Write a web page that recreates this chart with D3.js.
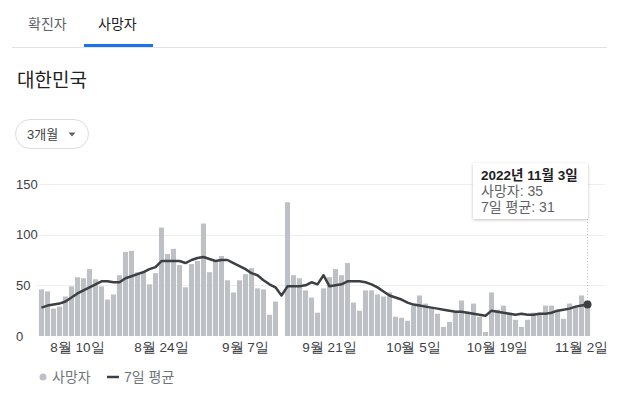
<!DOCTYPE html>
<html lang="ko">
<head>
<meta charset="utf-8">
<script src="https://cdn.jsdelivr.net/npm/d3@7"></script>
<style>
  body { margin: 0; background: #fff; }
  svg { display: block; font-family: Arial, "Liberation Sans", "Noto Sans CJK KR", sans-serif; }
</style>
</head>
<body>
<div id="chart"></div>
<script>
// daily deaths, 2022-08-04 .. 2022-11-03 (null = no report that day)
const startDay = "2022-08-04";
const deaths = [
  46, 44, 27, 29, 39, 49, 58, 57, 66, 56,
  49, 36, 41, 60, 83, 84, 63, 64, 51, 62,
  107, 81, 86, 70, 48, 71, 74, 111, 63, 73,
  79, 55, 43, 55, 61, 67, 47, 46, 21, 34,
  null, 132, 60, 57, 45, 38, 23, 47, 58, 66,
  60, 72, 33, 25, 45, 45, 41, 39, 43, 19,
  18, 15, 30, 40, 32, 28, 22, 9, 14, 23,
  35, 24, 32, 19, 4, 43, 26, 30, 23, 16,
  9, 16, 23, 23, 30, 30, 26, 17, 32, 29,
  40, 35
];
// 7-day average as drawn
const avg7 = [
  28, 30, 31, 32, 34, 38, 42, 45, 48, 51,
  54, 54, 53, 53, 57, 59, 61, 63, 66, 68,
  74, 74, 74, 74, 72, 75, 77, 78, 76, 74,
  75, 75, 72, 69, 66, 62, 60, 55, 51, 48,
  40, 49, 49, 49, 50, 53, 51, 60, 49, 50,
  51, 54, 54, 54, 53, 51, 48, 44, 40, 38,
  36, 33, 31, 30, 29, 28, 27, 26, 25, 24,
  24, 23, 22, 21, 20, 25, 24, 23, 22, 21,
  22, 21, 21, 22, 22, 23, 25, 26, 27, 29,
  30, 31
];
const xTickDays = ["2022-08-10", "2022-08-24", "2022-09-07", "2022-09-21", "2022-10-05", "2022-10-19", "2022-11-02"];
const xTickLabels = ["8월 10일", "8월 24일", "9월 7일", "9월 21일", "10월 5일", "10월 19일", "11월 2일"];
const yTicks = [0, 50, 100, 150];
const tabs = ["확진자", "사망자"];

const width = 617, height = 395;
const fmt = d3.timeFormat("%Y-%m-%d");
const parse = d3.timeParse("%Y-%m-%d");
const first = parse(startDay);
const days = d3.timeDay.range(first, d3.timeDay.offset(first, deaths.length)).map(fmt);

const data = days.map((d, i) => ({ day: d, deaths: deaths[i], avg: avg7[i] }));

const svg = d3.select("#chart").append("svg")
    .attr("width", width)
    .attr("height", height);

// header: tabs, title, period button
svg.append("line")
    .attr("x1", 12).attr("x2", 607)
    .attr("y1", 47.5).attr("y2", 47.5)
    .attr("stroke", "#e3e3e3");

svg.selectAll("text.tab")
    .data(tabs)
    .enter().append("text")
    .attr("class", "tab")
    .attr("x", (d, i) => i === 0 ? 28 : 98)
    .attr("y", 29)
    .attr("font-size", "14px")
    .attr("fill", (d, i) => i === 1 ? "#202124" : "#5f6368")
    .text(d => d);

svg.append("rect")
    .attr("x", 84).attr("y", 44)
    .attr("width", 69).attr("height", 3)
    .attr("fill", "#1a73e8");

svg.append("text")
    .attr("x", 17).attr("y", 87)
    .attr("font-size", "19px")
    .attr("fill", "#202124")
    .text("대한민국");

svg.append("rect")
    .attr("x", 15.5).attr("y", 119.5)
    .attr("width", 73).attr("height", 29)
    .attr("rx", 14.5)
    .attr("fill", "#fff")
    .attr("stroke", "#dadce0");

svg.append("text")
    .attr("x", 27).attr("y", 139)
    .attr("font-size", "13px")
    .attr("fill", "#3c4043")
    .text("3개월");

svg.append("path")
    .attr("d", "M68.5,132.5 L75.5,132.5 L72,136.5 Z")
    .attr("fill", "#5f6368");

// scales
const x = d3.scaleBand()
    .domain(days)
    .range([38.5, 590.5])
    .paddingInner(0.15)
    .paddingOuter(0.07);

const y = d3.scaleLinear()
    .domain([0, 150])
    .range([336, 184]);

// gridlines
svg.append("g")
    .selectAll("line")
    .data(yTicks.filter(v => v > 0))
    .enter().append("line")
    .attr("x1", 36).attr("x2", 605)
    .attr("y1", d => Math.round(y(d)) + 0.5)
    .attr("y2", d => Math.round(y(d)) + 0.5)
    .attr("stroke", "#efefef");

// y labels
const yAxis = svg.append("g")
    .attr("transform", "translate(16,0)")
    .call(d3.axisRight(y).tickValues(yTicks).tickSize(0).tickPadding(0));
yAxis.select(".domain").remove();
yAxis.selectAll("text")
    .attr("font-family", null)
    .attr("font-size", "13px")
    .attr("fill", "#3c4043");

// bars
svg.append("g")
    .selectAll("rect")
    .data(data.filter(d => d.deaths != null))
    .enter().append("rect")
    .attr("x", d => x(d.day))
    .attr("width", x.bandwidth())
    .attr("y", d => y(d.deaths))
    .attr("height", d => y(0) - y(d.deaths))
    .attr("fill", "#bdc1c6");

// hover guide for the last day
const last = data[data.length - 1];
const lastX = x(last.day) + x.bandwidth() / 2;

svg.append("line")
    .attr("x1", lastX).attr("x2", lastX)
    .attr("y1", 219).attr("y2", 336)
    .attr("stroke", "#c4c4c4")
    .attr("stroke-dasharray", "1,2");

// 7-day average line
const line = d3.line()
    .x(d => x(d.day) + x.bandwidth() / 2)
    .y(d => y(d.avg));

svg.append("path")
    .datum(data)
    .attr("d", line)
    .attr("fill", "none")
    .attr("stroke", "#3c4043")
    .attr("stroke-width", 2.5)
    .attr("stroke-linejoin", "round");

svg.append("circle")
    .attr("cx", lastX)
    .attr("cy", y(last.avg))
    .attr("r", 4)
    .attr("fill", "#3c4043");

// x axis labels
const xAxis = svg.append("g")
    .attr("transform", "translate(0,336)")
    .call(d3.axisBottom(x)
        .tickValues(xTickDays)
        .tickFormat((d, i) => xTickLabels[i])
        .tickSize(0)
        .tickPadding(6));
xAxis.select(".domain").remove();
xAxis.selectAll("text")
    .attr("font-family", null)
    .attr("font-size", "13.5px")
    .attr("fill", "#3c4043");

// tooltip
const defs = svg.append("defs");
const shadow = defs.append("filter").attr("id", "shadow")
    .attr("x", "-10%").attr("y", "-20%").attr("width", "120%").attr("height", "150%");
shadow.append("feDropShadow")
    .attr("dx", 0).attr("dy", 1).attr("stdDeviation", 1.5)
    .attr("flood-color", "#000").attr("flood-opacity", 0.25);

const tip = svg.append("g");
tip.append("rect")
    .attr("x", 473).attr("y", 163)
    .attr("width", 115).attr("height", 56)
    .attr("rx", 1)
    .attr("fill", "#fff")
    .attr("filter", "url(#shadow)");

const tipDate = parse(last.day);
tip.append("text")
    .attr("x", 481).attr("y", 180)
    .attr("font-size", "13.5px")
    .attr("font-weight", "bold")
    .attr("fill", "#202124")
    .text(`${tipDate.getFullYear()}년 ${tipDate.getMonth() + 1}월 ${tipDate.getDate()}일`);
tip.append("text")
    .attr("x", 481).attr("y", 196)
    .attr("font-size", "14px")
    .attr("fill", "#5f6368")
    .text(`사망자: ${last.deaths}`);
tip.append("text")
    .attr("x", 481).attr("y", 212)
    .attr("font-size", "14px")
    .attr("fill", "#5f6368")
    .text(`7일 평균: ${last.avg}`);

// legend
svg.append("circle")
    .attr("cx", 43).attr("cy", 377)
    .attr("r", 3.5)
    .attr("fill", "#bdc1c6");
svg.append("text")
    .attr("x", 52).attr("y", 382)
    .attr("font-size", "14px")
    .attr("fill", "#70757a")
    .text("사망자");
svg.append("line")
    .attr("x1", 107).attr("x2", 119)
    .attr("y1", 377).attr("y2", 377)
    .attr("stroke", "#3c4043")
    .attr("stroke-width", 2.5);
svg.append("text")
    .attr("x", 124).attr("y", 382)
    .attr("font-size", "14px")
    .attr("fill", "#70757a")
    .text("7일 평균");
</script>
</body>
</html>
